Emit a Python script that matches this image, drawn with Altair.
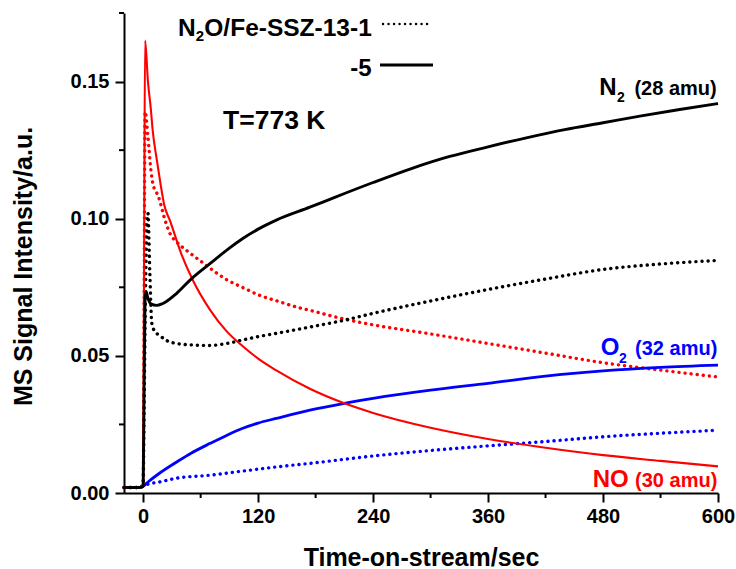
import altair as alt
import pandas as pd

FONT = "Liberation Sans"

# ---------------- data ----------------
# N2 (28 amu), Fe-SSZ-13-5 (solid)
t_n2_5 = [-20, -5, 0, 1, 2, 3, 5, 8, 14, 20, 35, 50, 70, 90, 104, 120, 139, 174, 200, 240,
          280, 320, 360, 400, 440, 480, 520, 560, 600]
v_n2_5 = [0.002, 0.002, 0.0025, 0.040, 0.071, 0.0735, 0.071, 0.069, 0.0684, 0.069, 0.0728,
          0.078, 0.0837, 0.0893, 0.0928, 0.0962, 0.0995, 0.1042, 0.1078, 0.1132,
          0.1183, 0.1227, 0.1262, 0.1295, 0.1325, 0.135, 0.1375, 0.1398, 0.142]

# NO (30 amu), Fe-SSZ-13-5 (solid)
t_no_5 = [-20, -5, 0, 1, 2, 5, 8, 10, 14, 18, 22, 28, 40, 52, 70, 87, 104, 120, 139, 174,
          210, 240, 300, 360, 420, 480, 540, 600]
v_no_5 = [0.002, 0.002, 0.003, 0.090, 0.165, 0.150, 0.140, 0.132, 0.122, 0.113, 0.105,
          0.0993, 0.087, 0.0775, 0.0667, 0.059, 0.0535, 0.049, 0.0447, 0.038,
          0.0327, 0.0292, 0.0238, 0.0197, 0.0165, 0.0138, 0.0117, 0.0097]

# O2 (32 amu), Fe-SSZ-13-5 (solid)
t_o2_5 = [-20, -5, 0, 5, 17, 35, 50, 70, 87, 104, 120, 139, 174, 210, 240, 300, 360, 420,
          480, 540, 600]
v_o2_5 = [0.002, 0.002, 0.0025, 0.004, 0.0072, 0.0113, 0.0145, 0.0181, 0.021, 0.0236,
          0.0255, 0.0272, 0.0302, 0.0327, 0.0345, 0.0375, 0.040, 0.0426, 0.0445,
          0.0458, 0.0466]

# N2 (28 amu), Fe-SSZ-13-1 (dotted)
t_n2_1 = [-20, -5, 0, 1, 2, 3, 5, 7, 9, 12, 17, 25, 35, 50, 70, 87, 104, 120, 139, 174,
          210, 240, 300, 360, 420, 480, 540, 600]
v_n2_1 = [0.002, 0.002, 0.0025, 0.030, 0.060, 0.085, 0.102, 0.080, 0.0619, 0.059, 0.0575,
          0.0555, 0.0545, 0.054, 0.0538, 0.0545, 0.0558, 0.057, 0.0582, 0.0605,
          0.063, 0.0655, 0.070, 0.0742, 0.078, 0.0815, 0.0835, 0.0848]

# NO (30 amu), Fe-SSZ-13-1 (dotted)
t_no_1 = [-20, -5, 0, 1, 2, 5, 8, 10, 16, 23, 28, 35, 45, 59, 70, 87, 104, 122, 139, 160,
          174, 210, 240, 300, 360, 420, 480, 540, 600]
v_no_1 = [0.002, 0.002, 0.003, 0.070, 0.139, 0.130, 0.118, 0.113, 0.108, 0.0993, 0.0946,
          0.0915, 0.0885, 0.0848, 0.0819, 0.0778, 0.0749, 0.072, 0.0701, 0.0678,
          0.0666, 0.0634, 0.0613, 0.058, 0.0545, 0.051, 0.0475, 0.0448, 0.0423]

# O2 (32 amu), Fe-SSZ-13-1 (dotted)
t_o2_1 = [-20, -5, 0, 5, 17, 35, 70, 104, 139, 174, 240, 300, 360, 435, 480, 540, 600]
v_o2_1 = [0.002, 0.002, 0.0025, 0.0032, 0.004, 0.0054, 0.0065, 0.008, 0.0095, 0.0108,
          0.0135, 0.0155, 0.0172, 0.0192, 0.0205, 0.0218, 0.0229]

gases = ["N2", "NO", "O2"]
colors = {"N2": "#000000", "NO": "#ff0000", "O2": "#0000ff"}

rows = []
for gas, run, ts, vs in [
    ("O2", "1", t_o2_1, v_o2_1), ("NO", "1", t_no_1, v_no_1), ("N2", "1", t_n2_1, v_n2_1),
    ("O2", "5", t_o2_5, v_o2_5), ("NO", "5", t_no_5, v_no_5), ("N2", "5", t_n2_5, v_n2_5),
]:
    for t, v in zip(ts, vs):
        rows.append({"t": t, "v": v, "gas": gas, "run": run})
df = pd.DataFrame(rows)

x_major = [0, 120, 240, 360, 480, 600]
x_minor = [60, 180, 300, 420, 540]
y_major = [0, 0.05, 0.10, 0.15]
y_minor = [0.025, 0.075, 0.125, 0.175]

# ---------------- chart ----------------
x_scale = alt.Scale(domain=[-20, 600], nice=False, zero=False)
y_scale = alt.Scale(domain=[0, 0.175], nice=False, zero=False)

x_axis = alt.Axis(values=x_major, format="d", title="Time-on-stream/sec", labelFlush=False,
                  tickSize=9, labelPadding=4, titleX=297, titleY=72, titleAlign="center",
                  titleBaseline="alphabetic")
y_axis = alt.Axis(values=y_major, format=".2f", title="MS Signal Intensity/a.u.",
                  labelFlush=False, tickSize=9, labelPadding=6, titleX=-101, titleY=253,
                  titleAngle=270, titleAlign="center", titleBaseline="middle")

X = alt.X("t:Q", scale=x_scale, axis=x_axis)
Y = alt.Y("v:Q", scale=y_scale, axis=y_axis)

base = alt.Chart(df)
layers = []
for gas in ["O2", "NO", "N2"]:
    layers.append(
        base.transform_filter(f"datum.run == '1' && datum.gas == '{gas}'").mark_line(
            interpolate="monotone", strokeDash=[0.1, 6.0], strokeCap="round",
            strokeWidth=3.4, color=colors[gas]
        ).encode(x=X, y=Y)
    )
for gas, w in [("O2", 2.8), ("NO", 2.1), ("N2", 2.9)]:
    layers.append(
        base.transform_filter(f"datum.run == '5' && datum.gas == '{gas}'").mark_line(
            interpolate="monotone", strokeWidth=w, color=colors[gas]
        ).encode(x=X, y=Y)
    )

minor_x = alt.Chart(pd.DataFrame({"t": x_minor})).mark_rule(color="black", strokeWidth=2).encode(
    x=alt.X("t:Q", scale=x_scale), y=alt.value(480), y2=alt.value(485))
minor_y = alt.Chart(pd.DataFrame({"v": y_minor})).mark_rule(color="black", strokeWidth=2).encode(
    y=alt.Y("v:Q", scale=y_scale), x=alt.value(0), x2=alt.value(-5))

one = alt.Data(values=[{"a": 1}])


def label(txt, x, y, size, color="black", align="left"):
    return alt.Chart(one).mark_text(
        text=txt, font=FONT, fontSize=size, fontWeight="bold", color=color,
        align=align, baseline="alphabetic"
    ).encode(x=alt.value(x), y=alt.value(y))


def sample(x1, x2, y, dash=None):
    kw = dict(color="black", strokeWidth=2.8)
    if dash:
        kw = dict(color="black", strokeWidth=2.4, strokeDash=dash, strokeCap="round")
    return alt.Chart(one).mark_rule(**kw).encode(x=alt.value(x1), x2=alt.value(x2), y=alt.value(y))


texts = [
    label("N", 54, 23, 24.5), label("2", 71.8, 28, 15), label("O/Fe-SSZ-13-1", 80.3, 23, 24.5),
    sample(259, 308, 11, dash=[0.1, 5.4]),
    label("-5", 247.5, 63, 24, align="right"),
    sample(256, 309, 52),
    label("T=773 K", 99, 115.5, 26.5),
    label("N", 475.3, 81.6, 24), label("2", 493, 89, 14),
    label("(28 amu)", 592.7, 81.6, 20, align="right"),
    label("O", 476.7, 342.3, 24, color="#0000ff"), label("2", 495, 350.3, 14, color="#0000ff"),
    label("(32 amu)", 593.3, 342.3, 20, color="#0000ff", align="right"),
    label("NO", 468.7, 474, 24, color="#ff0000"),
    label("(30 amu)", 593.3, 474, 20, color="#ff0000", align="right"),
]

chart = alt.layer(*layers, minor_x, minor_y, *texts).properties(
    width=594, height=480,
    autosize=alt.AutoSizeParams(type="none"),
    padding={"left": 124, "top": 13, "right": 18, "bottom": 76},
).configure_axis(
    domainColor="black", domainWidth=2, tickColor="black", tickWidth=2,
    labelFont=FONT, labelFontSize=20, labelFontWeight="bold", labelColor="black",
    titleFont=FONT, titleFontSize=25, titleFontWeight="bold", titleColor="black",
    grid=False,
).configure_view(stroke=None)

chart.save("out.html", embed_options={"renderer": "svg", "actions": False})
